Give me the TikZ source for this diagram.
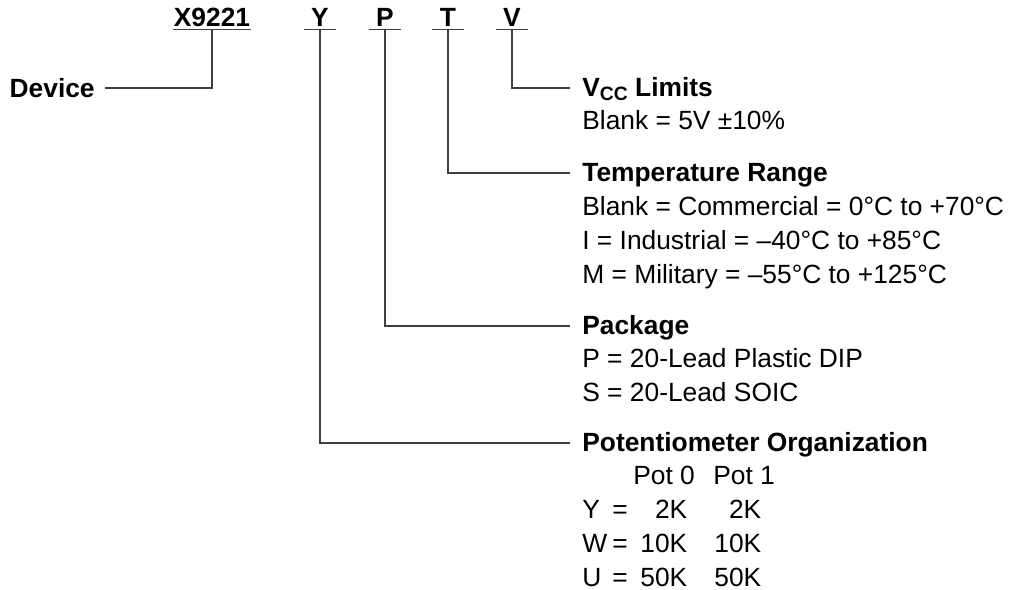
\documentclass[tikz,border=0pt]{standalone}
\usepackage{fontspec}
\setmainfont{Liberation Sans}
\usetikzlibrary{positioning,calc}

\newcommand{\ordfont}{\fontsize{15}{19.2}\selectfont}
\newcommand{\ordlines}[1]{\begin{tabular}[t]{@{}l@{}}#1\end{tabular}}
\newcommand{\potrow}[3]{\makebox[0.6cm][l]{#1}\makebox[1.5cm][s]{=\hfill#2}\makebox[1.48cm][r]{#3}}

\tikzset{
  code/.style={font=\ordfont\bfseries,anchor=base,inner xsep=0pt,inner ysep=0.05cm,text depth=0pt,minimum width=0.64cm},
  head/.style={font=\ordfont\bfseries,anchor=base west,inner sep=0pt},
  body/.style={font=\ordfont,anchor=base west,inner sep=0pt},
  lead/.style={black!75,line width=0.6pt},
}

\begin{document}
\begin{tikzpicture}[x=0.02cm,y=-0.02cm]
\useasboundingbox (0,0) rectangle (1011,590);
% part number fields
\node[code,minimum width=1.56cm] (part) at (212,27) {X9221};
\node[code] (yopt) at (320,27) {Y};
\node[code] (popt) at (385,27) {P};
\node[code] (topt) at (448,27) {T};
\node[code] (vopt) at (512,27) {V};
\foreach \f in {part,yopt,popt,topt,vopt}
  \draw[lead] (\f.south west) -- (\f.south east);
% device
\node[head,anchor=east,inner xsep=0.2cm] (device) at (105,88) {Device};
\draw[lead] (part.south) |- (device.east);
% vcc limits
\coordinate (vccend) at (570,88);
\node[head] (vcc) at (582,97) {V\raisebox{-0.08cm}{\fontsize{11}{11}\selectfont CC} Limits};
\node[body] (vccbody) at (582,130) {\ordlines{Blank = 5V ±10\%}};
\draw[lead] (vopt.south) |- (vccend);
% temperature
\coordinate (tempend) at (570,173);
\node[head] (temp) at (582,182) {Temperature Range};
\node[body] (tempbody) at (582,216) {\ordlines{Blank = Commercial = 0°C to +70°C\\
  I = Industrial = –40°C to +85°C\\
  M = Military = –55°C to +125°C}};
\draw[lead] (topt.south) |- (tempend);
% package
\coordinate (pkgend) at (570,326);
\node[head] (pkg) at (582,335) {Package};
\node[body] (pkgbody) at (582,368) {\ordlines{P = 20-Lead Plastic DIP\\
  S = 20-Lead SOIC}};
\draw[lead] (popt.south) |- (pkgend);
% potentiometer organization
\coordinate (potend) at (570,443);
\node[head] (pot) at (582,452) {Potentiometer Organization};
\node[body] (potbody) at (582,485) {\ordlines{\hspace*{1.02cm}\makebox[1.6cm][l]{Pot 0}Pot 1\\
  \potrow{Y}{2K}{2K}\\
  \potrow{W}{10K}{10K}\\
  \potrow{U}{50K}{50K}}};
\draw[lead] (yopt.south) |- (potend);
\end{tikzpicture}
\end{document}
